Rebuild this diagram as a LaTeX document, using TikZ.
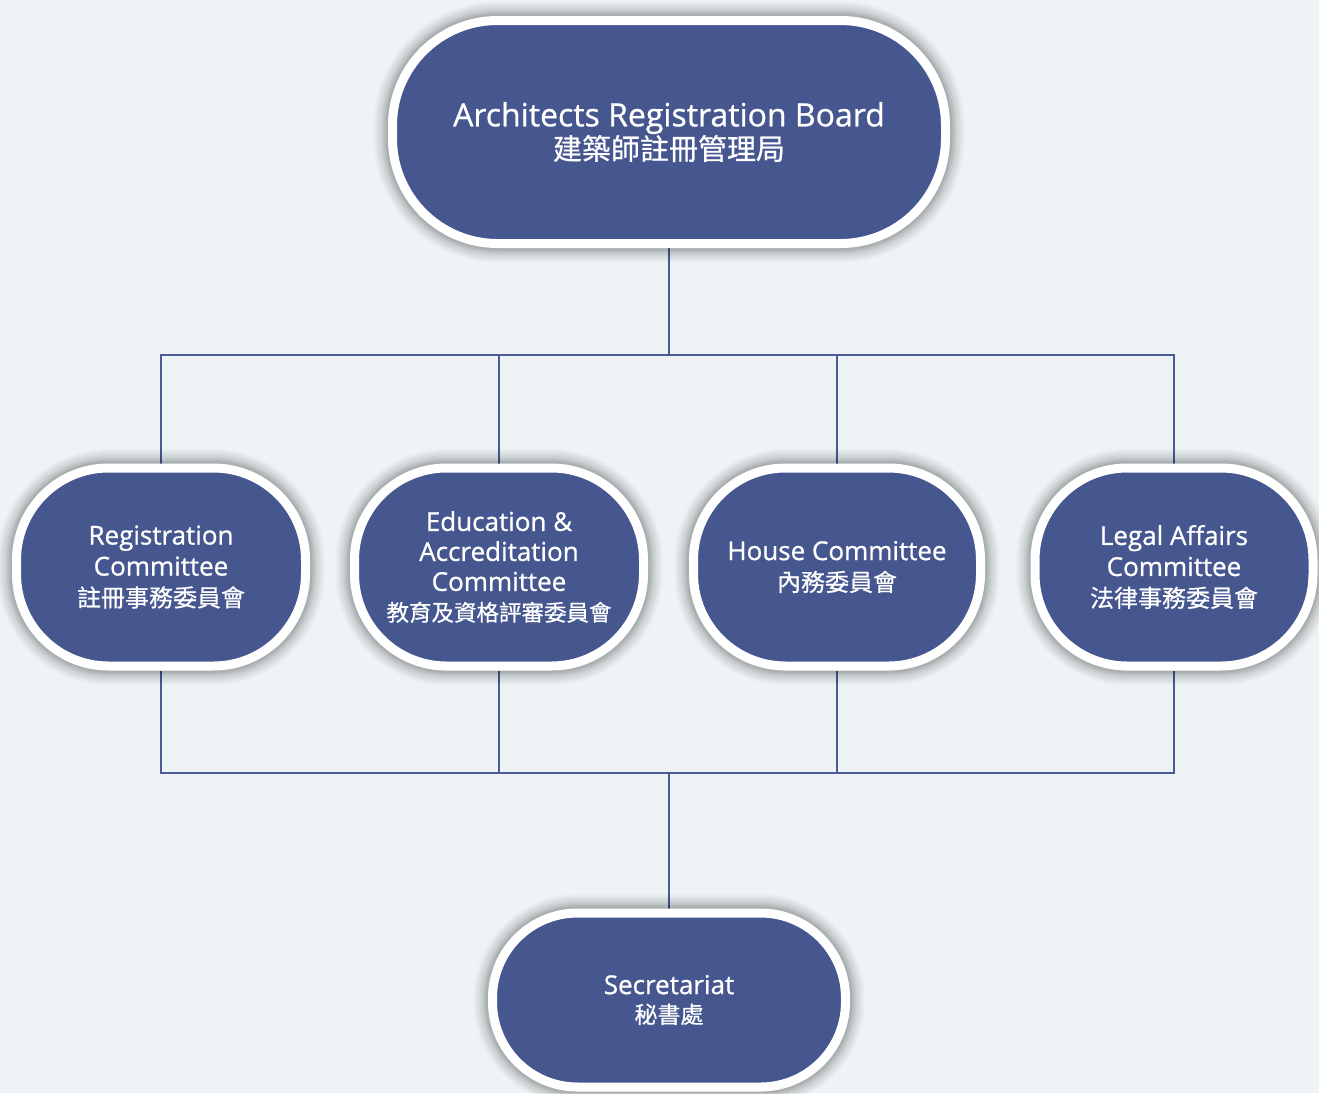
\documentclass[tikz,border=0pt]{standalone}
\usepackage{fontspec}
\setmainfont{Open Sans}[RawFeature={embolden=0.8}]
\newfontfamily\cjk{Noto Sans CJK TC}[RawFeature={embolden=0.6}]
\pgfdeclarelayer{bg}
\pgfdeclarelayer{lines}
\pgfsetlayers{bg,lines,main}
\definecolor{nodeblue}{HTML}{46578F}
\definecolor{linkblue}{HTML}{4B5B96}
\definecolor{paper}{HTML}{EEF3F5}
\tikzset{
  orgbox/.style={rectangle, rounded corners=#1, fill=nodeblue, draw=white,
    line width=9pt, text=white, align=center, inner sep=0pt,
    preaction={draw=black, draw opacity=0.025, line width=38pt},
    preaction={draw=black, draw opacity=0.03, line width=34pt},
    preaction={draw=black, draw opacity=0.03, line width=30pt},
    preaction={draw=black, draw opacity=0.035, line width=26pt},
    preaction={draw=black, draw opacity=0.04, line width=22pt},
    preaction={draw=black, draw opacity=0.045, line width=19pt},
    preaction={draw=black, draw opacity=0.05, line width=16pt},
    preaction={draw=black, draw opacity=0.06, line width=13pt}},
  link/.style={draw=linkblue, line width=2.4pt},
  latinA/.style={font=\fontsize{26}{31}\selectfont}
}
\begin{document}
\begin{tikzpicture}[x=1pt,y=-1pt]
\begin{pgfonlayer}{bg}
  \fill[paper] (0,0) rectangle (1319,1093);
\end{pgfonlayer}
\useasboundingbox (0,0) rectangle (1319,1093);

\node[orgbox=105pt, minimum width=553pt, minimum height=223pt] (arb) at (669,132)
  {\fontsize{32}{37}\selectfont Architects Registration Board\\
   \cjk\fontsize{29}{37}\selectfont 建築師註冊管理局};

\node[orgbox=92pt, minimum width=289pt, minimum height=198pt, latinA] (reg) at (161,567)
  {Registration\\Committee\\ \cjk\fontsize{24}{32}\selectfont 註冊事務委員會};
\node[orgbox=92pt, minimum width=289pt, minimum height=198pt, font=\fontsize{26}{30}\selectfont] (edu) at (499,567)
  {Education \&\\Accreditation\\Committee\\ \cjk\fontsize{22.5}{30}\selectfont 教育及資格評審委員會};
\node[orgbox=92pt, minimum width=287pt, minimum height=198pt, latinA] (house) at (837,567)
  {House Committee\\ \cjk\fontsize{24}{31}\selectfont 內務委員會};
\node[orgbox=92pt, minimum width=278pt, minimum height=198pt, latinA] (legal) at (1174,567)
  {Legal Affairs\\Committee\\ \cjk\fontsize{24}{32}\selectfont 法律事務委員會};

\node[orgbox=85pt, minimum width=353pt, minimum height=174pt, font=\fontsize{26}{29}\selectfont] (sec) at (669,1000)
  {Secretariat\\ \cjk\fontsize{23}{29}\selectfont 秘書處};

\coordinate (tbus) at (669,355);
\coordinate (bbus) at (669,773);

\begin{pgfonlayer}{lines}
  \draw[link] (arb.south) -- (tbus);
  \draw[link] (reg.north) |- (tbus);
  \draw[link] (edu.north) |- (tbus);
  \draw[link] (house.north) |- (tbus);
  \draw[link] (legal.north) |- (tbus);
  \draw[link] (reg.south) |- (bbus);
  \draw[link] (edu.south) |- (bbus);
  \draw[link] (house.south) |- (bbus);
  \draw[link] (legal.south) |- (bbus);
  \draw[link] (bbus) -- (sec.north);
\end{pgfonlayer}
\end{tikzpicture}
\end{document}
